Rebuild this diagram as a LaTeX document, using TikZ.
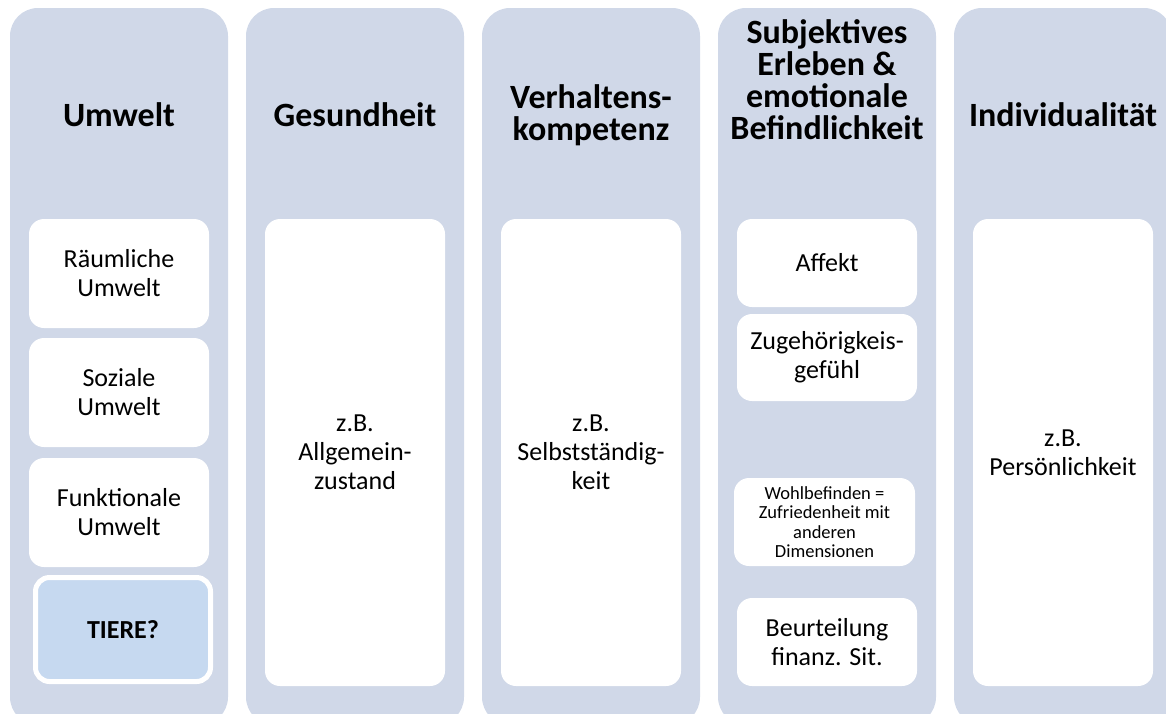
\documentclass[tikz,border=0pt]{standalone}
\usepackage{fontspec}
\setmainfont{Carlito}
\definecolor{colfill}{HTML}{D0D8E8}
\definecolor{tierefill}{HTML}{C6D9F0}
\tikzset{
  column/.style={fill=colfill, draw=none, rounded corners=28pt, minimum width=218pt, minimum height=717pt, inner sep=0pt},
  innerbox/.style={fill=white, draw=none, rounded corners=15pt, align=center, inner sep=0pt, minimum width=180pt},
  headtxt/.style={font=\fontsize{34}{32}\selectfont\bfseries, align=center, inner sep=0pt},
  bodytxt/.style={font=\fontsize{26}{29}\selectfont},
  smalltxt/.style={font=\fontsize{18.5}{19.5}\selectfont},
  tierebox/.style={fill=tierefill, draw=white, line width=5pt, rounded corners=14pt, align=center, inner sep=0pt,
    minimum width=175pt, minimum height=104pt, font=\fontsize{26}{29}\selectfont\bfseries}
}
\begin{document}
\begin{tikzpicture}[x=1pt, y=-1pt]
\useasboundingbox (0,0) rectangle (1166,713);
\clip (0,0) rectangle (1166,713);
% columns
\node[column] (c1) at (119,366.5) {};
\node[column] (c2) at (355,366.5) {};
\node[column] (c3) at (591,366.5) {};
\node[column] (c4) at (827,366.5) {};
\node[column] (c5) at (1063,366.5) {};
% headings
\node[headtxt] (h1) at (119,115) {Umwelt};
\node[headtxt] (h2) at (355,115) {Gesundheit};
\node[headtxt] (h3) at (591,115) {Verhaltens-\\kompetenz};
\node[headtxt] (h4) at (827,80) {Subjektives\\Erleben \&\\emotionale\\Befindlichkeit};
\node[headtxt] (h5) at (1063,115) {Individualität};
% column 1
\node[innerbox, bodytxt, minimum height=109pt] (b11) at (119,273.5) {Räumliche\\Umwelt};
\node[innerbox, bodytxt, minimum height=109pt] (b12) at (119,392.5) {Soziale\\Umwelt};
\node[innerbox, bodytxt, minimum height=109pt] (b13) at (119,512.5) {Funktionale\\Umwelt};
\node[tierebox] (b14) at (123,629.5) {TIERE?};
% column 2, 3, 5
\node[innerbox, bodytxt, minimum height=467pt] (b2) at (355,452.5) {z.B.\\Allgemein-\\zustand};
\node[innerbox, bodytxt, minimum height=467pt] (b3) at (591,452.5) {z.B.\\Selbstständig-\\keit};
\node[innerbox, bodytxt, minimum height=467pt] (b5) at (1063,452.5) {z.B.\\Persönlichkeit};
% column 4
\node[innerbox, bodytxt, minimum height=88pt] (b41) at (827,263) {Affekt};
\node[innerbox, bodytxt, minimum height=87pt] (b42) at (827,357.5) {Zugehörigkeis-\\gefühl};
\node[innerbox, smalltxt, minimum width=181pt, minimum height=88pt] (b43) at (824.5,522) {Wohlbefinden =\\Zufriedenheit mit\\anderen\\Dimensionen};
\node[innerbox, bodytxt, minimum height=88pt] (b44) at (827,642) {Beurteilung\\finanz. Sit.};
\end{tikzpicture}
\end{document}
